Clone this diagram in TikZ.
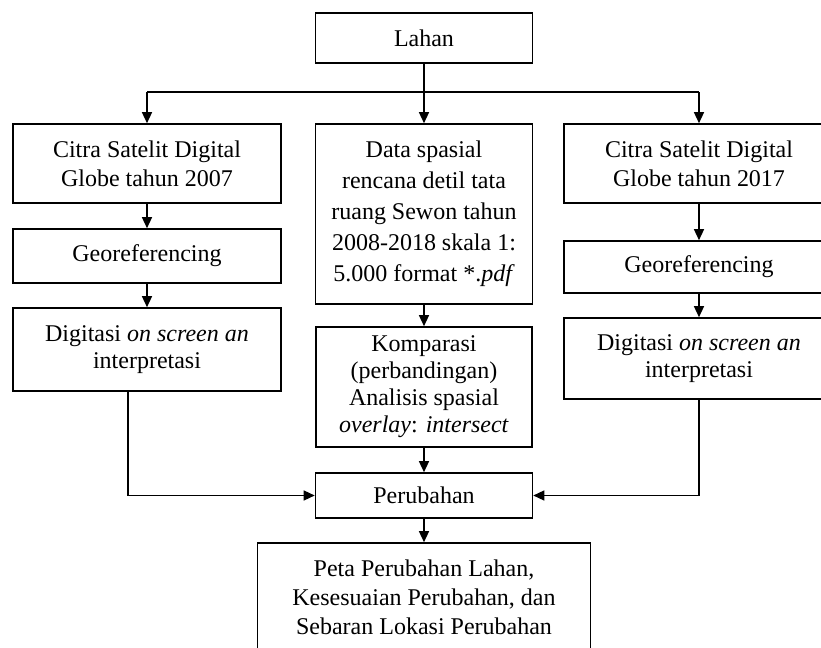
\documentclass[tikz,border=0pt]{standalone}
\usepackage{fontspec}
\setmainfont{Liberation Serif}
\usetikzlibrary{arrows.meta}

\begin{document}
\begin{tikzpicture}[x=0.5pt, y=-0.5pt, font=\fontsize{12}{14.5}\selectfont]
    % Styles
    \tikzset{box/.style={draw, line width=0.8pt, align=center, inner sep=0pt},
             arr/.style={line width=0.7pt, -{Triangle[length=5.5pt,width=5pt]}}}

    % Page frame
    \useasboundingbox (0,0) rectangle (821,648);

    % Top node
    \node[box, minimum width=108.5pt, minimum height=25pt] (lahan) at (424,38) {Lahan};
    \coordinate (split) at (424,92);

    % Left column - image 2007
    \node[box, minimum width=134pt, minimum height=39.5pt] (citraA) at (147,163.5)
        {Citra Satelit Digital\\Globe tahun 2007};
    \node[box, minimum width=134pt, minimum height=27pt] (georefA) at (147,256) {Georeferencing};
    \node[box, minimum width=134pt, minimum height=41.5pt, font=\fontsize{12}{13.5}\selectfont] (digitA) at (147,349.5)
        {Digitasi \textit{on screen an}\\interpretasi};

    % Middle column - spatial plan data
    \node[box, minimum width=108.5pt, minimum height=90pt, font=\fontsize{12}{15.5}\selectfont] (data) at (424,214)
        {Data spasial\\rencana detil tata\\ruang Sewon tahun\\2008-2018 skala 1:\\5.000 format *.\textit{pdf}};
    \node[box, minimum width=108pt, minimum height=60pt, font=\fontsize{12}{13.5}\selectfont] (kompar) at (424,387)
        {Komparasi\\(perbandingan)\\Analisis spasial\\\textit{overlay}: \textit{intersect}};
    \node[box, minimum width=108.5pt, minimum height=22.5pt] (perub) at (424,495.5) {Perubahan};
    \node[box, minimum width=166.5pt, minimum height=54.5pt] (peta) at (424,597.5)
        {Peta Perubahan Lahan,\\Kesesuaian Perubahan, dan\\Sebaran Lokasi Perubahan};

    % Right column - image 2017
    \node[box, minimum width=135pt, minimum height=39.5pt] (citraB) at (699,163.5)
        {Citra Satelit Digital\\Globe tahun 2017};
    \node[box, minimum width=135pt, minimum height=26pt] (georefB) at (699,267) {Georeferencing};
    \node[box, minimum width=135pt, minimum height=40.5pt, font=\fontsize{12}{13.5}\selectfont] (digitB) at (699,358.5)
        {Digitasi \textit{on screen an}\\interpretasi};

    % Branch from the top
    \draw[line width=0.7pt] (citraA |- split) -- (citraB |- split);
    \draw[arr] (lahan) -- (data);
    \draw[arr] (citraA |- split) -- (citraA);
    \draw[arr] (citraB |- split) -- (citraB);

    % Column arrows
    \draw[arr] (citraA) -- (georefA);
    \draw[arr] (georefA) -- (digitA);
    \draw[arr] (data) -- (kompar);
    \draw[arr] (citraB) -- (georefB);
    \draw[arr] (georefB) -- (digitB);

    % Joining into the change node
    \draw[arr] ([xshift=-9.5pt]digitA.south) |- (perub);
    \draw[arr] (digitB) |- (perub);
    \draw[arr] (kompar) -- (perub);
    \draw[arr] (perub) -- (peta);
\end{tikzpicture}
\end{document}
